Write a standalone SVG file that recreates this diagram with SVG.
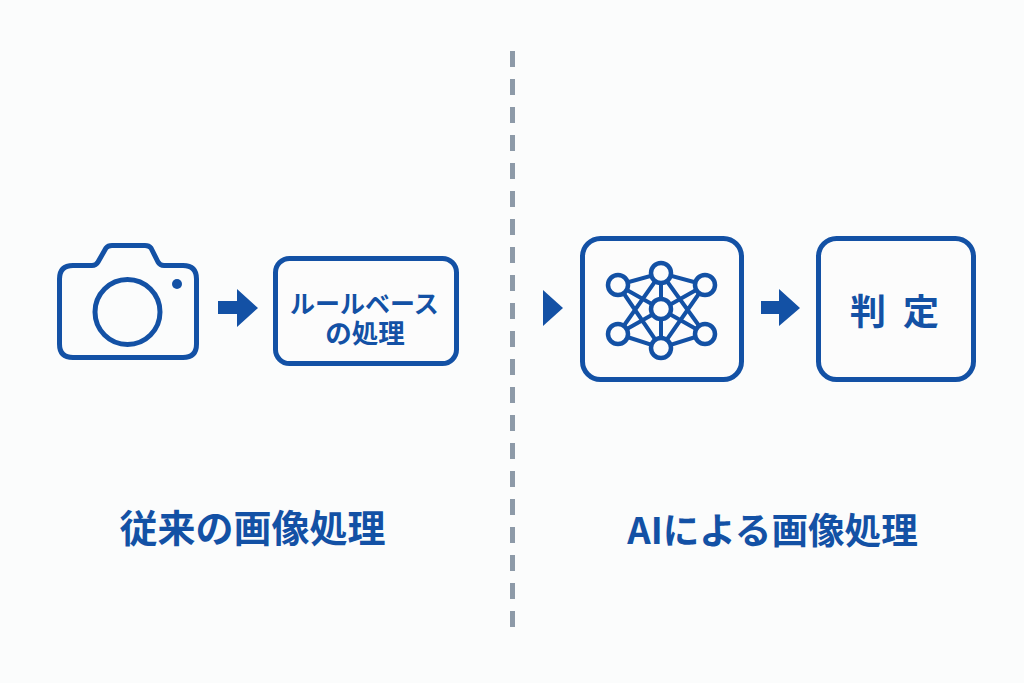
<svg xmlns="http://www.w3.org/2000/svg" width="1024" height="683" viewBox="0 0 1024 683">
<style>
.o{fill:none;stroke:#1351a5;stroke-width:5;stroke-linejoin:round}
.b{fill:#fcfcfc;stroke:#1351a5;stroke-width:5}
.f{fill:#1351a5}
.n{fill:#fcfcfc;stroke:#1351a5;stroke-width:4.500}
.l{stroke:#1351a5;stroke-width:4;fill:none}
text{font-family:"Noto Sans CJK JP","Noto Sans",sans-serif;font-weight:700;fill:#1351a5;text-anchor:middle}
</style>
<rect width="1024" height="683" fill="#fbfcfc"/>
<g id="divider"><line x1="512.5" y1="51" x2="512.5" y2="628" stroke="#8d9aa8" stroke-width="5" stroke-dasharray="16 12"/></g>
<g id="camera">
<path class="o" d="M73 265.500H92Q96 265.500 98 262L106 248Q108 245.500 112 245.500H145Q149 245.500 151 248L158 262Q160 265.500 164 265.500H183Q196.500 265.500 196.500 279V344Q196.500 357.500 183 357.500H73Q59.500 357.500 59.500 344V279Q59.500 265.500 73 265.500Z"/>
<circle class="o" cx="127.500" cy="312" r="32.500"/>
<circle class="f" cx="177" cy="284" r="5"/>
</g>
<g id="connectors">
<path class="f" d="M218 301H237V289L258 308L237 327V314H218Z"/>
<path class="f" d="M543 290L563 308L543 326Z"/>
<path class="f" d="M761 301H779V289L800 308L779 326V314H761Z"/>
</g>
<g id="rule-box">
<rect class="b" x="275.500" y="258.500" width="181" height="105" rx="14"/>
<text font-size="25"><tspan x="364.500" y="313">ルールベース</tspan><tspan x="365" y="343" font-size="26.500">の処理</tspan></text>
</g>
<g id="network-box">
<rect class="b" x="582.500" y="238.500" width="159" height="141" rx="18"/>
<path class="l" d="M618 285L661 273L705 285M618 334L661 348L705 334M618 285L661 348L705 285M618 334L661 273L705 334M618 285L705 334M618 334L705 285M661 273V348"/>
<circle class="n" cx="661" cy="273" r="10"/>
<circle class="n" cx="618" cy="285" r="10"/>
<circle class="n" cx="705" cy="285" r="10"/>
<circle class="n" cx="661" cy="309" r="10"/>
<circle class="n" cx="618" cy="334" r="10"/>
<circle class="n" cx="705" cy="334" r="10"/>
<circle class="n" cx="661" cy="348" r="10"/>
</g>
<g id="judge-box">
<rect class="b" x="818.500" y="238.500" width="155" height="141" rx="18"/>
<text x="868 921" y="325" font-size="36">判定</text>
</g>
<g id="title-left"><text x="252.500" y="542" font-size="38">従来の画像処理</text></g>
<g id="title-right"><text x="772.500" y="544" font-size="36.600">AIによる画像処理</text></g>
</svg>
